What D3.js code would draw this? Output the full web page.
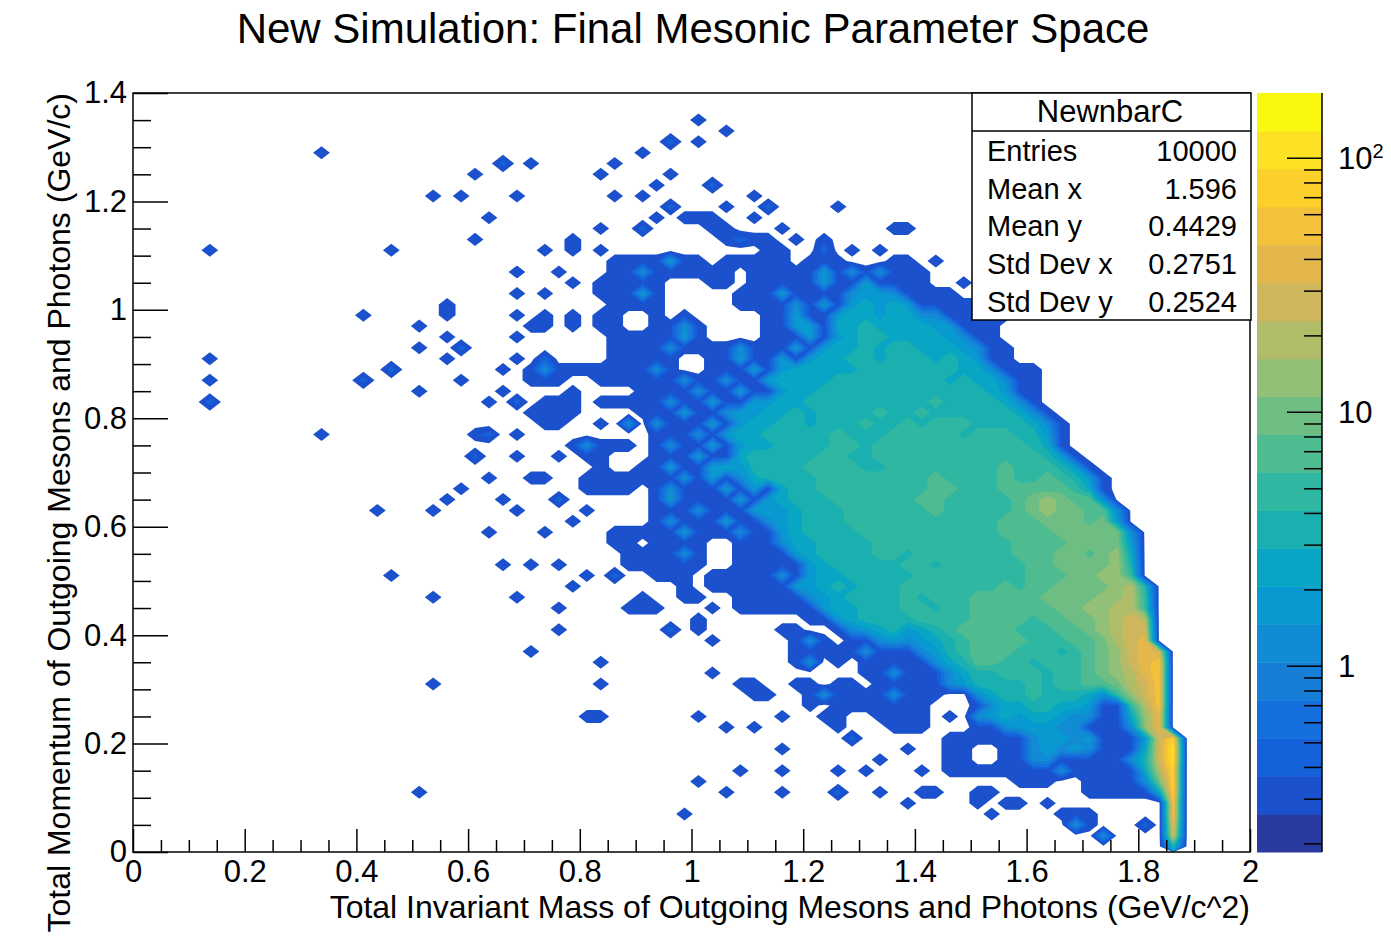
<!DOCTYPE html>
<html>
<head>
  <meta charset="utf-8">
  <title>New Simulation: Final Mesonic Parameter Space</title>
  <script src="https://cdn.jsdelivr.net/npm/d3@7"></script>
  <style>
    body { margin: 0; background: #fff; }
    svg { font-family: "Liberation Sans", Arial, Helvetica, sans-serif; }
  </style>
</head>
<body>
<svg width="1391" height="942"></svg>
<script>

// ---- data ----

// histogram grid: 80 columns of 0.025 in x, 70 rows of 0.02 in y (row 0 is the top, y = 1.4)
var nCols = 80, nRows = 70, xBin = 0.025, yBin = 0.02, xMax = 2, yMax = 1.4;

// each cell holds the colour band (0..19) of the palette seen at that place; '.' = empty
var bandChars = ".123456789abcdefghij";

// rows as "startColumn:bands" runs, spaces only group the columns by five
var rowRuns = [
  [], [],
  ["40:1"],
  ["42:1"],
  ["38:2", "40:1"],
  ["13:1", "36:1"],
  ["26:2", "28:1", "34:1"],
  ["24:1", "33:1", "38:1"],
  ["37:1", "41:2"],
  ["21:1", "23:1", "27:1", "34:1", "36:1", "44:1"],
  ["38:2", "42:1", "45:2", "50:1"],
  ["25:1", "37:1", "39:111", "44:1"],
  ["33:1", "36:2", "41:11", "46:1", "54:11"],
  ["24:1", "31:1", "42:1211", "47:1", "49:1"],
  ["5:1", "18:1", "29:1", "31:1", "33:1", "45:11", "49:2", "51:1", "53:1"],
  ["30:....1 11161 1.111 11.11 1...1 1.1.."],
  ["27:1", "30:1...1 15111 111.1 11116 15151 11..."],
  ["30:.1.11 111.. .11.1 11116 11611 11..1"],
  ["27:1", "29:1", "30:...11 161.. ...11 16111 15665 1111."],
  ["22:1", "30:....1 111.. ...11 11516 16767 61111 11"],
  ["16:1", "22:1", "27:1", "29:1", "30:.1.11 ..1.1 ..... 11611 67767 75511 111"],
  ["20:1", "28:11", "30:.1.11 ..115 1.... 11661 77877 77661 11"],
  ["22:1", "27:1", "30:....1 11116 1.... 11161 67887 77765 11"],
  ["20:1", "23:2", "30:....1 11151 11151 11616 77878 87776 511"],
  ["5:1", "22:1", "27:1", "29:2", "30:....1 1111. .1161 16167 78878 88787 611"],
  ["18:2", "26:1", "28:15", "30:11111 1151. .1116 16777 77888 88887 75111"],
  ["5:1", "16:2", "23:1", "28:11", "30:1..11 11115 11511 67777 88888 88878 77511"],
  ["20:1", "26:1", "30:.1... .1111 51161 16778 88888 88888 87611"],
  ["5:2", "25:1", "27:2", "29:1", "30:11.11 11151 16116 67788 88888 88988 88751"],
  ["28:11", "30:11... .1116 11566 77878 88898 89888 88875 1"],
  ["29:1", "30:1..1. 5.511 16167 78878 88988 98999 88887 51"],
  ["13:1", "24:12", "27:1", "30:..... ..111 51677 88888 98889 99998 99988 61"],
  ["30:.1511 1.151 16167 78888 99899 99999 99998 71"],
  ["24:2", "27:1", "30:1.11. ..111 61178 88889 98899 99999 99999 861"],
  ["30:...1. .1161 16768 88899 99889 99999 99a99 9861"],
  ["25:1", "28:11", "30:..111 11115 16157 88889 99999 99a99 99a99 a9861"],
  ["23:1", "30:..111 1.151 11616 17889 99999 99aa9 99aaa aa971"],
  ["22:1", "26:1", "30:2.... ..161 11161 67888 99999 9aa99 999ab cbaa5"],
  ["17:1", "21:1", "27:1", "30:..1.. ..111 51116 66788 89999 99a99 999ab cbbaa 5"],
  ["30:.1... ..151 11611 56788 89999 99999 99aaa bbbab 6"],
  ["25:1", "29:1", "30:....1 11116 11151 16788 88999 99999 99aaa abbbb b5"],
  ["30:....1 1.111 1..11 15778 88899 99999 999aa aabbb b6"],
  ["30:..... 11115 1..11 11678 88899 89999 999aa abbab c7"],
  ["26:1", "28:1", "30:1.... 11111 1..11 11167 88888 99899 9999a abbbb c8"],
  ["18:1", "30:..1.2 ..111 .1111 15167 78888 89999 9999a aabbc c9"],
  ["30:.1... ....1 .1111 11667 87888 99999 99a9a abbbb cd8"],
  ["21:1", "27:1", "30:..... .1..1 1..11 11156 78888 98999 aaaaa bbbbc cd9"],
  ["30:1.... 111.. .1.11 11116 77888 99899 aaaaa abbcc dd9"],
  ["30:..... ..... 1.... ...11 67888 89999 aaaa9 aabbc ded"],
  ["30:1.... ...2. 1.... .11.. 15678 6789a aaa99 9aabc dee"],
  ["30:..... ..... .1... ..151 .1156 56789 aaaa9 99aab def"],
  ["28:1", "30:..... ..... ..... ..111 11511 15689 aaa99 989ab cefe"],
  ["30:...1. ..... ..... ..15. 1.111 11578 aa998 999ab cefg"],
  ["30:..... ..... .1... ..... ..115 11157 88999 899ab cdfg"],
  ["21:1", "30:...1. ..... ...11 ..11. 11.11 11156 88889 899aa bdeg"],
  ["30:..... ..... ....1 1..15 11115 111.. 57889 88875 9ceg"],
  ["30:..... ..... ..... ...1. 11111 11... 15778 87761 19dg"],
  ["30:..11. ..... 1.... .1..1 1..11 11.1. 56767 76551 17cf"],
  ["30:..... ..... ..1.1 ..... 1...1 11... 11566 65511 15cf"],
  ["30:..... ..... ..... ..... .2... ...11 11115 66561 116eh"],
  ["30:..... ..... ..... .1... ..... 1..11 ..115 65651 117ei"],
  ["30:..... ..... ..... ..... ...1. ...11 ..115 51111 158ei"],
  ["30:..... ..... ...1. .1... 1.1.. .1.11 11111 15111 117dh"],
  ["30:..... ..... 1.... ..... ..... ..... ...11 1..11 115bh"],
  ["20:1", "30:..... ..... ..1.. .1... 2..1. .11.. 11... ...11 1117h"],
  ["30:..... ..... ..... ..... ..... 1.... 1.11. 1.... ....g"],
  ["30:..... ....1 ..... ..... ..... ..... .1... .111. ....g"],
  ["30:..... ..... ..... ..... ..... ..... ..... ..51. ..2.f"],
  ["30:..... ..... ..... ..... ..... ..... ..... ....5 ....e"],
  ["30:..... ..... ..... ..... ..... ..... ..... ..... ....8"]
];

// colour axis (log z), 20 bands
var zMin = 0.185, zMax = 180, nBands = 20;

// tick values
var xMajor = d3.range(0, 11).map(function(i) { return i * 0.2; });
var xMinor = d3.range(0, 41).filter(function(i) { return i % 4; }).map(function(i) { return i * 0.05; });
var yMajor = d3.range(0, 8).map(function(i) { return i * 0.2; });
var yMinor = d3.range(0, 29).filter(function(i) { return i % 4; }).map(function(i) { return i * 0.05; });
var zLabels = [1, 10, 100];

// statistics box
var statsName = "NewnbarC";
var statsLabels = ["Entries", "Mean x", "Mean y", "Std Dev x", "Std Dev y"];
var statsValues = ["10000", "1.596", "0.4429", "0.2751", "0.2524"];

var titleText = "New Simulation: Final Mesonic Parameter Space";
var xTitle = "Total Invariant Mass of Outgoing Mesons and Photons (GeV/c^2)";
var yTitle = "Total Momentum of Outgoing Mesons and Photons (GeV/c)";

// ---- style ----
// bird palette as seen on the colour bar, bottom band first
var bandColors = ["#2a3b9f", "#1b51cc", "#1461da", "#1470dc", "#177ed8", "#108bd4", "#0899d0",
  "#09a5c4", "#1bb0b0", "#30b7a2", "#4fbb91", "#6ebe83", "#92c076", "#b1bc68", "#cdb65b",
  "#e3b74b", "#f3c23a", "#fccf2b", "#fde124", "#f9f90f"];

var frame = { left: 133, right: 1250, top: 93, bottom: 852 };
var bar = { left: 1257, right: 1322 };

// ---- build the grid ----
var grid = new Array(nCols * nRows).fill(0);
rowRuns.forEach(function(runs, r) {
  runs.forEach(function(run) {
    var parts = run.split(":"), start = +parts[0], s = parts[1].replace(/ /g, "");
    for (var i = 0; i < s.length; i++) {
      grid[r * nCols + start + i] = Math.max(0, bandChars.indexOf(s[i]));
    }
  });
});

var svg = d3.select("svg");
svg.append("rect").attr("width", 1391).attr("height", 942).attr("fill", "#fff");

var x = d3.scaleLinear().domain([0, xMax]).range([frame.left, frame.right]);
var y = d3.scaleLinear().domain([0, yMax]).range([frame.bottom, frame.top]);

svg.append("clipPath").attr("id", "frameClip")
  .append("rect")
  .attr("x", frame.left).attr("y", frame.top)
  .attr("width", frame.right - frame.left).attr("height", frame.bottom - frame.top);

// contour bands: band b is filled above threshold b - 0.6
var thresholds = d3.range(1, nBands).map(function(b) { return b - 0.6; });
var contours = d3.contours().size([nCols, nRows]).thresholds(thresholds)(grid);

var gridToPlot = d3.geoTransform({
  point: function(u, v) { this.stream.point(x(u * xBin), y(yMax - v * yBin)); }
});
var path = d3.geoPath(gridToPlot);

svg.append("g").attr("clip-path", "url(#frameClip)")
  .selectAll("path")
  .data(contours)
  .join("path")
  .attr("d", path)
  .attr("fill", function(d) { return bandColors[Math.round(d.value + 0.6)]; });

// frame
svg.append("rect")
  .attr("x", frame.left).attr("y", frame.top)
  .attr("width", frame.right - frame.left).attr("height", frame.bottom - frame.top)
  .attr("fill", "none").attr("stroke", "#000").attr("stroke-width", 1.5);

var fmt = d3.format("~g");

function styleAxis(g) {
  g.select(".domain").remove();
  g.selectAll(".tick line").attr("stroke", "#000").attr("stroke-width", 1.5);
  g.selectAll("text").attr("font-size", 31).attr("fill", "#000").attr("font-family", null);
}

// x axis, ticks pointing into the frame
svg.append("g").attr("transform", "translate(0," + frame.bottom + ")")
  .call(d3.axisBottom(x).tickValues(xMinor).tickSize(-12).tickFormat(""))
  .call(styleAxis);
svg.append("g").attr("transform", "translate(0," + frame.bottom + ")")
  .call(d3.axisBottom(x).tickValues(xMajor).tickSize(-23).tickPadding(8).tickFormat(fmt))
  .call(styleAxis);

// y axis
svg.append("g").attr("transform", "translate(" + frame.left + ",0)")
  .call(d3.axisLeft(y).tickValues(yMinor).tickSize(-18).tickFormat(""))
  .call(styleAxis);
svg.append("g").attr("transform", "translate(" + frame.left + ",0)")
  .call(d3.axisLeft(y).tickValues(yMajor).tickSize(-35).tickPadding(6).tickFormat(fmt))
  .call(styleAxis);

// axis titles
svg.append("text")
  .attr("x", frame.right).attr("y", 918)
  .attr("text-anchor", "end").attr("font-size", 32)
  .text(xTitle);
svg.append("text")
  .attr("transform", "translate(70," + frame.top + ") rotate(-90)")
  .attr("text-anchor", "end").attr("font-size", 32)
  .text(yTitle);

// colour bar
var z = d3.scaleLog().domain([zMin, zMax]).range([frame.bottom, frame.top]);
var bandEdges = d3.range(0, nBands + 1).map(function(k) { return zMin * Math.pow(zMax / zMin, k / nBands); });

svg.append("g").selectAll("rect")
  .data(d3.range(nBands))
  .join("rect")
  .attr("x", bar.left)
  .attr("width", bar.right - bar.left)
  .attr("y", function(k) { return z(bandEdges[k + 1]); })
  .attr("height", function(k) { return z(bandEdges[k]) - z(bandEdges[k + 1]) + 0.5; })
  .attr("fill", function(k) { return bandColors[k]; });

var zTicks = z.ticks();
var isDecade = function(v) { return Math.abs(Math.log10(v) - Math.round(Math.log10(v))) < 1e-9; };

svg.append("g").attr("transform", "translate(" + bar.right + ",0)")
  .call(d3.axisLeft(z).tickValues(zTicks.filter(function(v) { return !isDecade(v); })).tickSize(18).tickFormat(""))
  .call(styleAxis);
svg.append("g").attr("transform", "translate(" + bar.right + ",0)")
  .call(d3.axisLeft(z).tickValues(zTicks.filter(isDecade)).tickSize(35).tickFormat(""))
  .call(styleAxis);
svg.append("line")
  .attr("x1", bar.right).attr("x2", bar.right)
  .attr("y1", frame.top).attr("y2", frame.bottom)
  .attr("stroke", "#000").attr("stroke-width", 1.5);

var zLab = svg.append("g").selectAll("text")
  .data(zLabels)
  .join("text")
  .attr("x", 1338)
  .attr("y", function(v) { return z(v); })
  .attr("dy", "0.36em")
  .attr("font-size", 31);
zLab.each(function(v) {
  var t = d3.select(this);
  if (v >= 100) {
    t.append("tspan").text("10");
    t.append("tspan").attr("dy", "-0.55em").attr("font-size", 20).text(Math.round(Math.log10(v)));
  } else {
    t.text(v);
  }
});

// statistics box
var box = { left: 972, top: 93, right: 1251, bottom: 320, header: 131 };
var sb = svg.append("g");
sb.append("rect")
  .attr("x", box.left).attr("y", box.top)
  .attr("width", box.right - box.left).attr("height", box.bottom - box.top)
  .attr("fill", "#fff").attr("stroke", "#000").attr("stroke-width", 1.5);
sb.append("line")
  .attr("x1", box.left).attr("x2", box.right)
  .attr("y1", box.header).attr("y2", box.header)
  .attr("stroke", "#000").attr("stroke-width", 1.5);
sb.append("text")
  .attr("x", 1110).attr("y", 122)
  .attr("text-anchor", "middle").attr("font-size", 31)
  .text(statsName);
sb.selectAll("text.lab")
  .data(statsLabels)
  .join("text").attr("class", "lab")
  .attr("x", 987).attr("y", function(d, i) { return 161 + i * 37.7; })
  .attr("font-size", 29)
  .text(function(d) { return d; });
sb.selectAll("text.val")
  .data(statsValues)
  .join("text").attr("class", "val")
  .attr("x", 1237).attr("y", function(d, i) { return 161 + i * 37.7; })
  .attr("text-anchor", "end").attr("font-size", 29)
  .text(function(d) { return d; });

// title
svg.append("text")
  .attr("x", 693).attr("y", 43)
  .attr("text-anchor", "middle").attr("font-size", 42)
  .text(titleText);

</script>
</body>
</html>
